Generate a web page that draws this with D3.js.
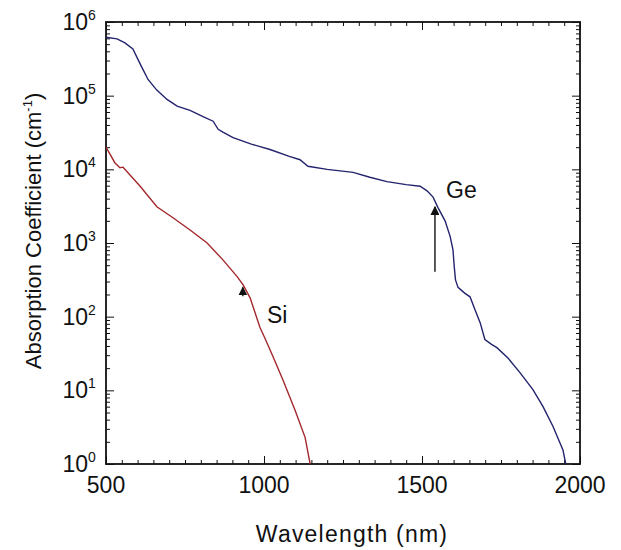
<!DOCTYPE html>
<html>
<head>
<meta charset="utf-8">
<script src="https://cdn.jsdelivr.net/npm/d3@7/dist/d3.min.js"></script>
<style>
  html, body { margin: 0; padding: 0; background: #fff; }
  svg text { font-family: "Liberation Sans", Arial, Helvetica, sans-serif; fill: #111; }
</style>
</head>
<body>
<svg id="chart" width="621" height="550"></svg>
<script>
// Germanium absorption spectrum (wavelength in nm, coefficient in cm^-1)
const geWavelength = [500, 535, 560, 585, 610, 633, 660, 693, 725, 766, 807, 839, 855, 870, 902, 960,
  1019, 1080, 1114, 1139, 1200, 1282, 1335, 1389, 1450, 1494, 1516, 1535, 1551, 1573, 1589, 1598,
  1602, 1606, 1614, 1635, 1652, 1668, 1684, 1699, 1720, 1737, 1772, 1810, 1851, 1883, 1915, 1946, 1955];
const geAbsorption = [6.2e5, 5.9e5, 5.2e5, 4.3e5, 2.6e5, 1.66e5, 1.2e5, 8.9e4, 7.2e4, 6.3e4, 5.2e4, 4.5e4,
  3.5e4, 3.2e4, 2.7e4, 2.2e4, 1.86e4, 1.5e4, 1.35e4, 1.1e4, 1.0e4, 9.1e3, 7.8e3, 6.8e3, 6.2e3, 5.9e3,
  5.1e3, 4.2e3, 3.0e3, 2.0e3, 1230, 810, 480, 316, 250, 209, 186, 123, 83, 49, 42, 38, 27.5, 17.4,
  10.2, 6.0, 3.2, 1.55, 1.0];

// Silicon absorption spectrum
const siWavelength = [500, 528, 544, 554, 608, 661, 712, 766, 820, 870, 915, 934, 956, 987, 1003,
  1028, 1060, 1098, 1130, 1146];
const siAbsorption = [2.0e4, 1.23e4, 1.05e4, 1.07e4, 5.9e3, 3.1e3, 2.2e3, 1.5e3, 1.0e3, 590, 350,
  270, 180, 72, 51, 29, 13.8, 5.4, 2.3, 1.0];

// Band-edge arrows: [wavelength, tail value, head value]
const geArrow = [1541, 407, 3100];
const siArrow = [933, 190, 250];

// Axis ticks
const xTickValues = [500, 1000, 1500, 2000];
const xTickLabels = ["500", "1000", "1500", "2000"];
const xMinorStep = 50;
const yExponents = [0, 1, 2, 3, 4, 5, 6];

const svg = d3.select("#chart");
const plotLeft = 106, plotRight = 580, plotTop = 22, plotBottom = 464;

const x = d3.scaleLinear().domain([500, 2000]).range([plotLeft, plotRight]);
const y = d3.scaleLog().domain([1, 1e6]).range([plotBottom, plotTop]);

const defs = svg.append("defs");
defs.append("clipPath").attr("id", "plot-clip")
  .append("rect")
  .attr("x", plotLeft).attr("y", plotTop)
  .attr("width", plotRight - plotLeft).attr("height", plotBottom - plotTop);

defs.append("marker")
  .attr("id", "arrowhead")
  .attr("viewBox", "0 0 10 10")
  .attr("refX", 9).attr("refY", 5)
  .attr("markerWidth", 9).attr("markerHeight", 9)
  .attr("markerUnits", "userSpaceOnUse")
  .attr("orient", "auto")
  .append("path")
  .attr("d", "M0,0 L10,5 L0,10 Z")
  .attr("fill", "#111");

// Minor and major tick values
const xMinor = d3.range(500, 2000 + 1, xMinorStep).filter(v => !xTickValues.includes(v));
const yMajor = yExponents.map(e => Math.pow(10, e));
const yMinor = [];
yExponents.slice(0, -1).forEach(e => {
  for (let k = 2; k <= 9; k++) yMinor.push(k * Math.pow(10, e));
});

function styleAxis(g) {
  g.select(".domain").remove();
  g.selectAll(".tick line").attr("stroke", "#111").attr("stroke-width", 1);
  g.selectAll(".tick text").remove();
}

// Inward ticks on all four sides
svg.append("g").attr("transform", `translate(0,${plotBottom})`)
  .call(d3.axisBottom(x).tickValues(xMinor).tickSize(-4).tickFormat("")).call(styleAxis);
svg.append("g").attr("transform", `translate(0,${plotBottom})`)
  .call(d3.axisBottom(x).tickValues(xTickValues).tickSize(-8).tickFormat("")).call(styleAxis);
svg.append("g").attr("transform", `translate(0,${plotTop})`)
  .call(d3.axisTop(x).tickValues(xMinor).tickSize(-4).tickFormat("")).call(styleAxis);
svg.append("g").attr("transform", `translate(0,${plotTop})`)
  .call(d3.axisTop(x).tickValues(xTickValues).tickSize(-8).tickFormat("")).call(styleAxis);

svg.append("g").attr("transform", `translate(${plotLeft},0)`)
  .call(d3.axisLeft(y).tickValues(yMinor).tickSize(-4).tickFormat("")).call(styleAxis);
svg.append("g").attr("transform", `translate(${plotLeft},0)`)
  .call(d3.axisLeft(y).tickValues(yMajor).tickSize(-8).tickFormat("")).call(styleAxis);
svg.append("g").attr("transform", `translate(${plotRight},0)`)
  .call(d3.axisRight(y).tickValues(yMinor).tickSize(-4).tickFormat("")).call(styleAxis);
svg.append("g").attr("transform", `translate(${plotRight},0)`)
  .call(d3.axisRight(y).tickValues(yMajor).tickSize(-8).tickFormat("")).call(styleAxis);

// Plot frame
svg.append("rect")
  .attr("x", plotLeft).attr("y", plotTop)
  .attr("width", plotRight - plotLeft).attr("height", plotBottom - plotTop)
  .attr("fill", "none").attr("stroke", "#111").attr("stroke-width", 1.8);

// X tick labels
svg.append("g").selectAll("text")
  .data(xTickValues)
  .join("text")
  .attr("x", d => x(d))
  .attr("y", plotBottom + 29)
  .attr("text-anchor", "middle")
  .attr("font-size", 23)
  .text((d, i) => xTickLabels[i]);

// Y tick labels: 10 with superscript exponent
svg.append("g").selectAll("text")
  .data(yExponents)
  .join("text")
  .attr("x", 88)
  .attr("y", d => y(Math.pow(10, d)) + 8)
  .attr("text-anchor", "end")
  .attr("font-size", 23)
  .text("10");
svg.append("g").selectAll("text")
  .data(yExponents)
  .join("text")
  .attr("x", 88)
  .attr("y", d => y(Math.pow(10, d)) - 2)
  .attr("text-anchor", "start")
  .attr("font-size", 14)
  .text(d => String(d));

// Curves
const line = d3.line()
  .x(d => x(d[0]))
  .y(d => y(d[1]));

const plot = svg.append("g").attr("clip-path", "url(#plot-clip)");
plot.append("path")
  .datum(d3.zip(siWavelength, siAbsorption))
  .attr("d", line)
  .attr("fill", "none")
  .attr("stroke", "#a3282c")
  .attr("stroke-width", 1.4);
plot.append("path")
  .datum(d3.zip(geWavelength, geAbsorption))
  .attr("d", line)
  .attr("fill", "none")
  .attr("stroke", "#23236e")
  .attr("stroke-width", 1.4);

// Band-edge arrows
[geArrow, siArrow].forEach(a => {
  svg.append("line")
    .attr("x1", x(a[0])).attr("x2", x(a[0]))
    .attr("y1", y(a[1])).attr("y2", y(a[2]))
    .attr("stroke", "#111").attr("stroke-width", 1.4)
    .attr("marker-end", "url(#arrowhead)");
});

// Curve labels
svg.append("text").attr("x", 446).attr("y", 198).attr("font-size", 23).text("Ge");
svg.append("text").attr("x", 267).attr("y", 323).attr("font-size", 23).text("Si");

// Axis titles
svg.append("text")
  .attr("x", 352).attr("y", 542)
  .attr("text-anchor", "middle")
  .attr("font-size", 23)
  .attr("letter-spacing", 1.2)
  .text("Wavelength (nm)");

const yTitle = svg.append("text")
  .attr("transform", "translate(41,231) rotate(-90)")
  .attr("text-anchor", "middle")
  .attr("font-size", 22);
yTitle.append("tspan").text("Absorption Coefficient (cm");
yTitle.append("tspan").attr("font-size", 13).attr("dy", -9).text("-1");
yTitle.append("tspan").attr("dy", 9).text(")");
</script>
</body>
</html>
